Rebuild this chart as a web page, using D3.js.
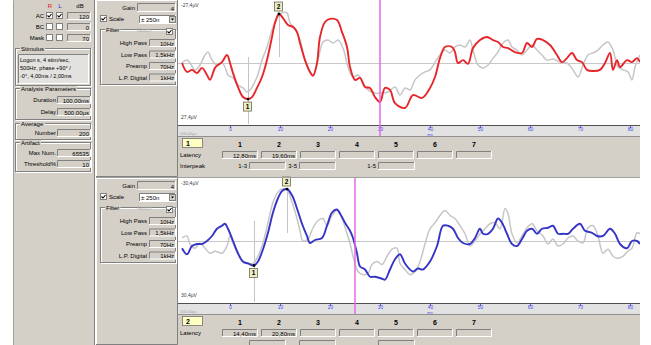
<!DOCTYPE html>
<html>
<head>
<meta charset="utf-8">
<script src="https://cdn.jsdelivr.net/npm/d3@7"></script>
<style>
  html, body { margin: 0; padding: 0; background: #fff; }
  svg { display: block; font-family: "Liberation Sans", Arial, sans-serif; }
</style>
</head>
<body>
<svg id="chart" width="651" height="345"></svg>
<script>
// ─── Data ──────────────────────────────────────────────────────────────────
// traces as [time ms, amplitude µV]  (screen top = negative, as in the labels)
const RIGHT_TRACE = [
  [-9.6,0],[-8.6,4.0],[-7.6,3.1],[-6.6,4.5],[-5.6,2.2],[-4.6,5.4],[-4.0,7.6],[-3.0,2.2],[-2.4,0.9],
  [-1.6,-0.4],[-0.6,-3.6],[0,0],[0.6,4.5],[1.6,10.8],[2.6,15.3],[3.6,16.2],[4.4,15.3],[5.4,11.2],
  [6.4,6.3],[7.4,-1.3],[8.4,-11.7],[9.0,-18.0],[9.8,-22.0],[10.6,-20.2],[11.6,-17.1],[12.6,-16.2],
  [13.4,-13.9],[14.0,-9.0],[15.0,-1.3],[16.0,4.0],[16.6,5.8],[17.4,0],[18.0,-11.7],[19.0,-18.4],
  [20.0,-19.8],[21.4,-19.3],[22.4,-13.9],[23.4,-7.2],[24.0,1.8],[25.0,7.6],[26.0,6.7],[27.0,10.8],
  [28.0,11.2],[29.0,15.3],[30.0,17.5],[31.0,11.2],[32.0,12.1],[33.0,18.0],[35.0,20.2],[36.6,14.4],
  [38.4,15.7],[40.0,11.2],[41.0,6.3],[42.0,-2.2],[43.0,-7.2],[44.4,-7.2],[45.0,-4.9],[45.6,0],
  [46.6,-1.3],[47.6,0.4],[48.6,-6.7],[50.0,-10.3],[51.4,-11.7],[52.6,-10.3],[53.6,-9.4],[54.6,-7.2],
  [55.6,-6.7],[57.0,-4.9],[58.4,-4.5],[59.4,-9.0],[60.4,-7.2],[61.4,-10.8],[62.6,-10.3],[64.0,-8.1],
  [65.4,-3.6],[66.4,-0.4],[67.4,-2.2],[68.4,-4.5],[69.4,-1.3],[70.4,-0.4],[71.4,3.1],[72.6,3.6],
  [74.0,3.1],[75.0,0],[76.0,-4.5],[76.6,3.1],[77.4,-1.3],[78.0,1.8],[79.4,-1.3],[80.4,-0.4],
  [81.4,-2.2],[82.0,-0.4]
];
const RIGHT_REF = [
  [-9.6,0],[-8.6,-1.3],[-8.0,0],[-7.0,3.1],[-6.0,0.9],[-5.0,-3.6],[-4.4,-4.9],[-3.6,-1.3],[-2.6,0.9],
  [-1.6,0],[-1.0,1.8],[-0.4,5.4],[0.6,6.7],[1.6,9.9],[2.6,11.2],[3.4,13.0],[4.0,12.1],[5.4,6.3],
  [6.4,-1.3],[7.4,-7.2],[8.4,-14.8],[9.4,-20.2],[10.4,-22.5],[11.4,-22.5],[12.0,-18.0],[13.0,-15.7],
  [14.0,-10.3],[15.0,-1.3],[16.0,4.0],[16.6,5.4],[17.6,-1.3],[18.6,-9.4],[19.6,-10.3],[20.6,-9.0],
  [21.6,-10.3],[22.6,-6.7],[23.6,1.8],[24.6,6.3],[25.6,5.4],[26.6,9.0],[27.6,12.1],[29.0,13.5],
  [30.4,13.5],[31.6,13.0],[33.0,10.8],[34.0,14.4],[35.0,11.2],[36.0,12.1],[37.0,7.6],[38.0,5.4],
  [39.0,4.0],[40.0,3.1],[41.0,-0.4],[42.0,-3.6],[43.0,-5.8],[44.0,-4.5],[45.0,-7.2],[46.0,-8.1],
  [47.0,-7.2],[48.0,-10.3],[48.6,-5.8],[49.6,0.9],[50.6,2.2],[51.6,0.9],[52.6,-2.2],[53.6,-4.9],
  [54.6,-9.0],[55.6,-10.3],[56.4,-7.2],[57.4,-5.8],[58.4,-3.6],[59.4,-5.8],[60.4,-8.1],[61.4,-5.8],
  [62.4,-3.6],[63.4,-1.3],[64.6,-1.8],[66.0,-0.4],[67.4,0],[68.6,3.1],[69.6,6.3],[70.6,0.9],
  [71.6,-3.6],[72.6,-4.5],[73.6,-5.8],[74.6,-8.1],[75.6,-9.4],[76.6,-5.8],[77.6,1.8],[78.6,3.1],
  [79.6,4.0],[80.4,7.6],[81.0,1.8],[82.0,-3.6]
];
const LEFT_TRACE = [
  [-9.6,3.6],[-8.6,6.6],[-7.6,2.5],[-6.6,1.5],[-5.6,1.5],[-4.6,0],[-3.6,-2.5],[-2.6,-6.1],[-1.6,-7.6],
  [-1.0,-8.6],[-0.4,-6.1],[0.6,0],[1.6,6.1],[2.6,10.2],[3.6,11.2],[4.8,12.2],[5.6,10.2],[6.6,4.1],
  [7.6,-4.1],[8.6,-14.2],[9.6,-21.3],[10.4,-24.9],[11.4,-25.9],[12.4,-22.8],[13.4,-16.2],[14.4,-8.6],
  [15.4,-2.5],[16.0,1.0],[17.0,-0.5],[18.4,-1.5],[19.4,-7.6],[20.4,-14.2],[21.4,-15.7],[22.0,-13.7],
  [23.0,-9.1],[24.0,-5.1],[24.6,-1.5],[25.4,6.1],[26.0,12.7],[27.0,14.2],[28.0,17.8],[29.0,17.8],
  [30.4,18.8],[31.0,19.3],[32.0,14.2],[33.0,9.1],[34.0,6.6],[35.0,11.2],[36.6,15.2],[37.6,13.7],
  [38.6,14.2],[40.0,10.2],[41.4,2.5],[42.6,-7.6],[43.6,-7.6],[44.6,-6.1],[45.6,-1.5],[46.6,1.0],
  [48.0,1.5],[49.0,-1.5],[50.0,-6.1],[50.6,-3.6],[51.6,-3.6],[52.6,-6.1],[53.6,-11.2],[54.4,-9.1],
  [55.4,-3.6],[56.4,1.5],[57.4,2.5],[58.4,-1.0],[59.4,-5.1],[60.4,-6.1],[61.4,-3.6],[62.4,-6.1],
  [63.6,-6.6],[64.6,-7.6],[65.6,-3.6],[66.6,-3.6],[67.6,-3.6],[68.6,-6.1],[70.0,-8.6],[71.0,-5.1],
  [72.4,-4.1],[73.4,-2.5],[74.6,-2.5],[76.0,-6.1],[77.0,-3.6],[78.0,1.5],[79.4,3.6],[80.4,0],
  [81.4,0],[82.0,1.5]
];
const LEFT_REF = [
  [-9.6,-1.5],[-8.6,-2.5],[-8.0,1.5],[-7.0,3.6],[-6.0,1.0],[-5.0,3.6],[-4.0,6.1],[-3.0,5.1],[-1.6,6.1],
  [-0.6,2.5],[0,-2.5],[0.6,1.0],[1.6,6.6],[2.6,10.7],[3.6,11.2],[4.6,11.2],[5.6,7.6],[6.6,1.0],
  [7.6,-9.1],[8.6,-19.3],[9.6,-24.4],[10.4,-25.9],[11.4,-25.4],[12.4,-19.3],[13.4,-11.2],[14.0,-5.1],
  [14.6,0],[15.6,-1.0],[16.6,-6.6],[17.6,-10.2],[18.6,-11.2],[19.4,-7.6],[20.4,-12.7],[21.4,-15.2],
  [22.4,-11.2],[23.4,-3.6],[24.0,1.0],[24.6,7.6],[25.6,15.2],[26.6,16.8],[27.6,16.2],[28.4,11.7],
  [29.4,10.2],[30.4,11.7],[31.4,7.6],[32.4,4.1],[33.4,3.6],[34.0,11.2],[35.0,14.2],[36.0,16.8],
  [37.0,15.2],[38.0,10.2],[39.0,1.5],[40.0,-6.1],[41.0,-9.1],[42.0,-12.7],[43.0,-15.2],[44.0,-12.7],
  [45.0,-11.2],[46.0,-7.6],[47.0,-3.6],[48.0,2.5],[49.0,0],[50.0,-3.6],[51.0,-6.1],[52.0,-8.6],
  [53.0,-9.1],[54.0,-6.1],[55.0,-16.2],[55.6,-13.7],[56.4,-3.6],[57.4,1.0],[58.4,-2.5],[59.4,-6.6],
  [60.4,-8.6],[61.4,-5.1],[62.6,-2.5],[63.6,1.5],[64.6,-1.0],[65.6,2.5],[66.6,1.5],[67.6,-1.5],
  [68.6,-2.5],[69.6,0],[70.6,1.0],[71.6,-6.6],[72.6,-7.6],[73.6,-2.5],[74.6,6.1],[75.6,4.1],
  [76.6,7.6],[77.6,8.6],[78.6,7.6],[79.6,5.1],[80.4,3.6],[81.4,-4.1],[82.0,-3.6]
];

// peak markers: label, time, amplitude, guide line [from, to] in µV
const RIGHT_PEAKS = [
  { n: "1", t: 3.6, v: 16.2, guide: [-2.7, 27.4] },
  { n: "2", t: 9.8, v: -22.0, guide: [-22.0, -2.7] },
];
const LEFT_PEAKS = [
  { n: "1", t: 4.8, v: 12.2, guide: [-10, 30.4] },
  { n: "2", t: 11.4, v: -25.9, guide: [-25.9, -4] },
];

const X_DOMAIN = [-10.4, 82];
const X_TICKS = [0, 10, 20, 30, 40, 50, 60, 70, 80];
const PEAK_COLS = ["1", "2", "3", "4", "5", "6", "7"];
const RIGHT_LATENCY = ["12,80ms", "19,60ms", "", "", "", "", ""];
const LEFT_LATENCY = ["14,40ms", "20,80ms", "", "", "", "", ""];
const INTERPEAK = ["1-3", "3-5", "1-5"];

const STIM_LINES = ["Logon s, 4 stim/sec,", "500Hz, phase +90° /", "-0°, 4,00ms / 2,00ms"];
const FILTER_ROWS = [["High Pass", "10Hz"], ["Low Pass", "1,5kHz"], ["Preamp", "70Hz"], ["L.P. Digital", "1kHz"]];

// ─── Style ─────────────────────────────────────────────────────────────────
const PANEL = "#d4d0c8";
const DARK = "#808080";
const FONT = 6;

const svg = d3.select("#chart");

// ─── Widget helpers ────────────────────────────────────────────────────────
function txt(g, x, y, s, o = {}) {
  return g.append("text").attr("x", x).attr("y", y)
    .attr("font-size", o.size || FONT).attr("fill", o.fill || "#000")
    .attr("text-anchor", o.anchor || "start")
    .attr("font-weight", o.bold ? "700" : null)
    .text(s);
}

function field(g, x, y, w, h, s, fill) {
  g.append("rect").attr("x", x).attr("y", y).attr("width", w).attr("height", h)
    .attr("fill", fill || PANEL);
  g.append("path").attr("d", `M${x + 0.5},${y + h}V${y + 0.5}H${x + w}`)
    .attr("stroke", DARK).attr("fill", "none");
  g.append("path").attr("d", `M${x + w - 0.5},${y}V${y + h - 0.5}H${x}`)
    .attr("stroke", "#fff").attr("fill", "none");
  if (s) txt(g, x + w - 2, y + h - 1.5, s, { anchor: "end" });
}

function checkbox(g, x, y, checked) {
  g.append("rect").attr("x", x + 0.5).attr("y", y + 0.5).attr("width", 6).attr("height", 6)
    .attr("fill", "#fff").attr("stroke", DARK);
  if (checked) {
    g.append("path").attr("d", `M${x + 1.5},${y + 3.5}L${x + 3},${y + 5}L${x + 5.5},${y + 2}`)
      .attr("stroke", "#000").attr("stroke-width", 1.1).attr("fill", "none");
  }
}

function groupBox(g, x, y, w, h, title) {
  g.append("rect").attr("x", x + 0.5).attr("y", y + 0.5).attr("width", w).attr("height", h)
    .attr("fill", "none").attr("stroke", "#fff");
  g.append("rect").attr("x", x - 0.5).attr("y", y - 0.5).attr("width", w).attr("height", h)
    .attr("fill", "none").attr("stroke", DARK);
  if (title) {
    const t = txt(g, x + 5, y + 2, title);
    const bb = t.node().getBBox();
    g.insert("rect", () => t.node())
      .attr("x", bb.x - 1).attr("y", bb.y).attr("width", bb.width + 2).attr("height", bb.height)
      .attr("fill", PANEL);
  }
}

// ─── Left settings panel ───────────────────────────────────────────────────
const left = svg.append("g");
left.append("rect").attr("x", 13).attr("y", 0).attr("width", 82).attr("height", 345).attr("fill", PANEL);
left.append("path").attr("d", "M13.5,345V0.5").attr("stroke", "#a0a0a0");
left.append("path").attr("d", "M94.5,0V345").attr("stroke", DARK);

txt(left, 50, 8, "R", { fill: "#e02020", anchor: "middle" });
txt(left, 60, 8, "L", { fill: "#2020e0", anchor: "middle" });
txt(left, 80, 8, "dB", { anchor: "middle" });
[["AC", true, "120"], ["BC", false, "0"], ["Mask", false, "70"]].forEach(([lab, on, val], i) => {
  const y = 12 + i * 11;
  txt(left, 44, y + 6, lab, { anchor: "end" });
  checkbox(left, 46, y, on);
  checkbox(left, 56, y, on);
  field(left, 67, y, 24, 8, val);
});

groupBox(left, 16, 49, 75, 37, "Stimulus");
field(left, 18, 54, 71, 30, null, "#e4e2de");
STIM_LINES.forEach((s, i) => txt(left, 20, 62 + i * 8, s, { size: 5.6 }));

groupBox(left, 16, 89, 75, 31, "Analysis Parameters");
txt(left, 56, 102, "Duration", { anchor: "end" });
field(left, 57, 96, 34, 8, "100,00ms");
txt(left, 56, 114, "Delay", { anchor: "end" });
field(left, 57, 108, 34, 8, "500,00µs");

groupBox(left, 16, 124, 75, 16, "Average");
txt(left, 56, 135, "Number", { anchor: "end" });
field(left, 57, 129, 34, 8, "200");

groupBox(left, 16, 143, 75, 29, "Artifact");
txt(left, 56, 155, "Max Num.", { anchor: "end" });
field(left, 57, 149, 34, 8, "65535");
txt(left, 56, 166, "Threshold%", { anchor: "end" });
field(left, 57, 160, 34, 8, "10");

// ─── One recording (settings column + trace + axis + latency table) ────────
const PLOT_X0 = 178, PLOT_X1 = 640;
const x = d3.scaleLinear().domain(X_DOMAIN).range([PLOT_X0, PLOT_X1]);

function drawRecording(cfg) {
  const { top, uv, trace, ref, color, peaks, cursor, index, latency, panelH, interpeakLabels } = cfg;
  const plotH = 125, stripH = 12;
  const axY = top + plotH;
  const infoY = axY + stripH;
  const g = svg.append("g");

  // settings column
  const m = g.append("g");
  m.append("rect").attr("x", 96).attr("y", top).attr("width", PLOT_X0 - 96).attr("height", panelH)
    .attr("fill", PANEL);
  m.append("path").attr("d", `M96.5,${top + panelH}V${top + 0.5}H${PLOT_X0}`).attr("stroke", "#fff").attr("fill", "none");
  m.append("path").attr("d", `M${PLOT_X0 - 0.5},${top}V${top + panelH - 0.5}H96`).attr("stroke", DARK).attr("fill", "none");
  txt(m, 135, top + 10, "Gain", { anchor: "end" });
  field(m, 137, top + 3, 39, 9, "4");
  checkbox(m, 100, top + 15, true);
  txt(m, 109, top + 21, "Scale");
  field(m, 139, top + 15, 37, 9, null, "#fff");
  txt(m, 141, top + 22, "± 250n");
  m.append("rect").attr("x", 169.5).attr("y", top + 16.5).attr("width", 6).attr("height", 6)
    .attr("fill", PANEL).attr("stroke", DARK);
  m.append("path").attr("d", `M171,${top + 18.5}h3l-1.5,2z`).attr("fill", "#000");
  groupBox(m, 101, top + 30, 75, 55, "Filter");
  txt(m, 137, top + 32, "Notch", { fill: "#a8a8a8", size: 5.5 });
  checkbox(m, 166, top + 28, true);
  FILTER_ROWS.forEach(([lab, val], i) => {
    const y = top + 39 + i * 11.5;
    txt(m, 147, y + 6, lab, { anchor: "end" });
    field(m, 149, y, 27, 8, val);
  });

  // plot area
  const y = d3.scaleLinear().domain([-uv, uv]).range([top + 2, top + plotH - 1]);
  g.append("rect").attr("x", PLOT_X0).attr("y", top).attr("width", PLOT_X1 - PLOT_X0).attr("height", plotH)
    .attr("fill", "#fff");
  const clipId = "clip" + index;
  g.append("clipPath").attr("id", clipId).append("rect")
    .attr("x", PLOT_X0).attr("y", top).attr("width", PLOT_X1 - PLOT_X0).attr("height", plotH);
  const pg = g.append("g").attr("clip-path", `url(#${clipId})`);

  pg.append("line").attr("x1", PLOT_X0).attr("x2", PLOT_X1)
    .attr("y1", Math.round(y(0)) + 0.5).attr("y2", Math.round(y(0)) + 0.5)
    .attr("stroke", "#c8c8c8");

  peaks.forEach(p => {
    pg.append("line").attr("x1", Math.round(x(p.t)) + 0.5).attr("x2", Math.round(x(p.t)) + 0.5)
      .attr("y1", y(p.guide[0])).attr("y2", y(p.guide[1])).attr("stroke", "#c4c4c4");
  });

  const line = d3.line().x(d => x(d[0])).y(d => y(d[1])).curve(d3.curveCatmullRom.alpha(0.5));
  pg.append("path").datum(ref).attr("d", line).attr("fill", "none")
    .attr("stroke", "#c6c6c6").attr("stroke-width", 1.5).attr("stroke-linejoin", "round");
  pg.append("path").datum(trace).attr("d", line).attr("fill", "none")
    .attr("stroke", color).attr("stroke-width", 1.9).attr("stroke-linejoin", "round");

  txt(g, 181, top + 7, `-${String(uv).replace(".", ",")}µV`, { size: 5, fill: "#404040" });
  txt(g, 181, top + plotH - 6, `${String(uv).replace(".", ",")}µV`, { size: 5, fill: "#404040" });

  // peak markers
  peaks.forEach(p => {
    const px = x(p.t), py = y(p.v);
    const up = p.v < 0;
    const by = up ? py - 12 : py + 3;
    g.append("circle").attr("cx", px).attr("cy", py).attr("r", 1.4).attr("fill", "#000");
    g.append("rect").attr("x", px - 4.5).attr("y", by).attr("width", 8).attr("height", 9)
      .attr("fill", "#eeeec4").attr("stroke", "#6a6a50").attr("stroke-width", 0.8);
    txt(g, px - 0.5, by + 7, p.n, { size: 6.5, bold: true, anchor: "middle" });
  });

  // axis strip
  g.append("rect").attr("x", PLOT_X0).attr("y", axY).attr("width", PLOT_X1 - PLOT_X0).attr("height", stripH)
    .attr("fill", "#e2e2e2");
  g.append("line").attr("x1", PLOT_X0).attr("x2", PLOT_X1).attr("y1", axY + 0.5).attr("y2", axY + 0.5)
    .attr("stroke", "#505050").attr("stroke-width", 1.2);
  g.append("line").attr("x1", PLOT_X0).attr("x2", PLOT_X1).attr("y1", axY + stripH - 0.5).attr("y2", axY + stripH - 0.5)
    .attr("stroke", "#909090");
  const ax = g.append("g").attr("transform", `translate(0,${axY + 1})`)
    .call(d3.axisBottom(x).tickValues(X_TICKS).tickSize(2).tickPadding(0));
  ax.attr("font-size", 4.8).attr("font-family", null);
  ax.select(".domain").remove();
  ax.selectAll(".tick line").attr("stroke", "#5a5ad8");
  ax.selectAll(".tick text").attr("fill", "#4646ee");
  txt(g, x(40), axY + 11, "ms", { size: 4, fill: "#4646ee", anchor: "middle" });
  txt(g, 180, axY + 10, "200,00µs", { size: 4, fill: "#a0a0a0" });

  // cursor
  g.append("line").attr("x1", x(cursor)).attr("x2", x(cursor))
    .attr("y1", top).attr("y2", axY + stripH - 1)
    .attr("stroke", "#e46ae4").attr("stroke-width", 1.5);

  // latency table
  const info = g.append("g");
  info.append("rect").attr("x", PLOT_X0).attr("y", infoY).attr("width", PLOT_X1 - PLOT_X0)
    .attr("height", top + panelH - infoY).attr("fill", PANEL);
  info.append("rect").attr("x", 182.5).attr("y", infoY + 1.5).attr("width", 20).attr("height", 9)
    .attr("fill", "#ffffc4").attr("stroke", "#707070").attr("stroke-width", 0.8);
  txt(info, 186, infoY + 9, String(index), { size: 7, bold: true });
  PEAK_COLS.forEach((c, i) => {
    const bx = 222 + i * 39;
    txt(info, bx + 18, infoY + 9.5, c, { size: 7, bold: true, anchor: "middle" });
    field(info, bx, infoY + 14, 36, 8, latency[i]);
  });
  txt(info, 180, infoY + 20, "Latency");
  const ipX = [249, 299, 378];
  if (interpeakLabels) txt(info, 180, infoY + 31, "Interpeak");
  INTERPEAK.forEach((s, i) => {
    if (interpeakLabels) txt(info, ipX[i] - 2, infoY + 31, s, { anchor: "end" });
    field(info, ipX[i], infoY + 25, 37, 8, "");
  });
}

drawRecording({
  top: 0, panelH: 177, uv: 27.4, trace: RIGHT_TRACE, ref: RIGHT_REF, color: "#e8262a",
  peaks: RIGHT_PEAKS, cursor: 30, index: 1, latency: RIGHT_LATENCY, interpeakLabels: true,
});
// second recording: its interpeak row falls below the window edge
drawRecording({
  top: 178, panelH: 167, uv: 30.4, trace: LEFT_TRACE, ref: LEFT_REF, color: "#3434c8",
  peaks: LEFT_PEAKS, cursor: 25, index: 2, latency: LEFT_LATENCY, interpeakLabels: false,
});

// separator between the two recordings
svg.append("rect").attr("x", 96).attr("y", 177).attr("width", PLOT_X1 - 96).attr("height", 1).attr("fill", "#a0a0a0");
</script>
</body>
</html>
